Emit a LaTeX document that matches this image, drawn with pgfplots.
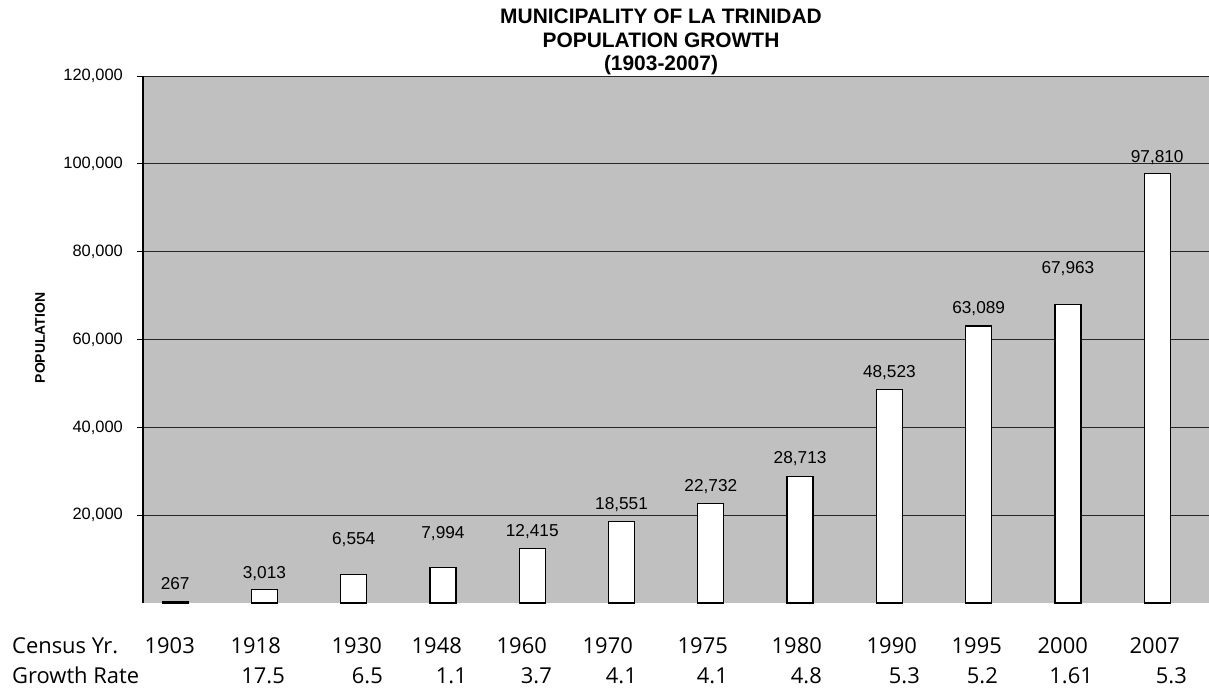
\documentclass[border=0pt]{standalone}
\usepackage{fontspec}
\setmainfont{Liberation Sans}
\newfontfamily\osans{Open Sans}
\usepackage{pgfplots}
\usepackage{pgfplotstable}
\pgfplotsset{compat=1.18}
\definecolor{plotgray}{RGB}{192,192,192}

\pgfplotstableread{
x y off lab
0 267 12 267
1 3013 11 3,013
2 6554 30 6,554
3 7994 29 7,994
4 12415 12 12,415
5 18551 12 18,551
6 22732 12 22,732
7 28713 13 28,713
8 48523 12 48,523
9 63089 12 63,089
10 67963 31 67,963
11 97810 11 97,810
}\popdata

\begin{document}
\begin{tikzpicture}
\useasboundingbox (0,0) rectangle (1209bp,689bp);
\begin{axis}[
  at={(143bp,86bp)}, anchor=south west,
  scale only axis, width=1066bp, height=527bp,
  xmin=-0.36, xmax=11.58, ymin=0, ymax=120000,
  xtick=\empty,
  ytick={20000,40000,60000,80000,100000,120000},
  yticklabels={{20,000},{40,000},{60,000},{80,000},{100,000},{120,000}},
  scaled y ticks=false,
  axis background/.style={fill=plotgray},
  axis line style={draw=none},
  ymajorgrids, major grid style={black!85, line width=0.8bp},
  ytick pos=left, tick align=outside, major tick length=6bp,
  ytick style={black, line width=0.9bp},
  yticklabel style={font=\fontsize{16.5}{18}\selectfont, inner sep=0pt, xshift=-14bp},
  clip=false,
]
\draw[black, line width=1.1bp] (rel axis cs:0,0) -- (rel axis cs:0,1);
\addplot[ybar, bar width=26bp, fill=white, draw=black, line width=1.2bp,
  visualization depends on={\thisrow{off} \as \myoff},
  point meta=explicit symbolic,
  nodes near coords={\raisebox{\myoff bp}{\pgfplotspointmeta}},
  every node near coord/.append style={font=\fontsize{17.3}{19}\selectfont, anchor=base, inner sep=0pt, black},
] table[x=x, y=y, meta=lab] {\popdata};
\end{axis}

% title
\node[font=\bfseries\fontsize{21}{23}\selectfont, anchor=base] at (661bp,665bp) {MUNICIPALITY OF LA TRINIDAD};
\node[font=\bfseries\fontsize{21}{23}\selectfont, anchor=base] at (661bp,641.5bp) {POPULATION GROWTH};
\node[font=\bfseries\fontsize{21}{23}\selectfont, anchor=base] at (661bp,618.5bp) {(1903-2007)};

% y label
\node[rotate=90, font=\bfseries\fontsize{14}{16}\selectfont, inner sep=0pt] at (40bp,351bp) {POPULATION};

% census table below the chart
\begin{scope}[every node/.style={font=\osans\fontsize{22}{24}\selectfont, inner sep=0pt}]
\node[anchor=base west] at (12bp,36bp) {Census Yr.};
\node[anchor=base west] at (12bp,6bp) {Growth Rate};
\foreach \xr/\yr in {195/1903,281/1918,382/1930,462/1948,547/1960,633/1970,728/1975,822/1980,917/1990,1002/1995,1088/2000,1180/2007}
  \node[anchor=base east] at (\xr bp,36bp) {\yr};
\foreach \xr/\gr in {285/17.5,383/6.5,467/1.1,552/3.7,637/4.1,728/4.1,822/4.8,920/5.3,998/5.2,1093/1.61,1187/5.3}
  \node[anchor=base east] at (\xr bp,6bp) {\gr};
\end{scope}
\end{tikzpicture}
\end{document}
